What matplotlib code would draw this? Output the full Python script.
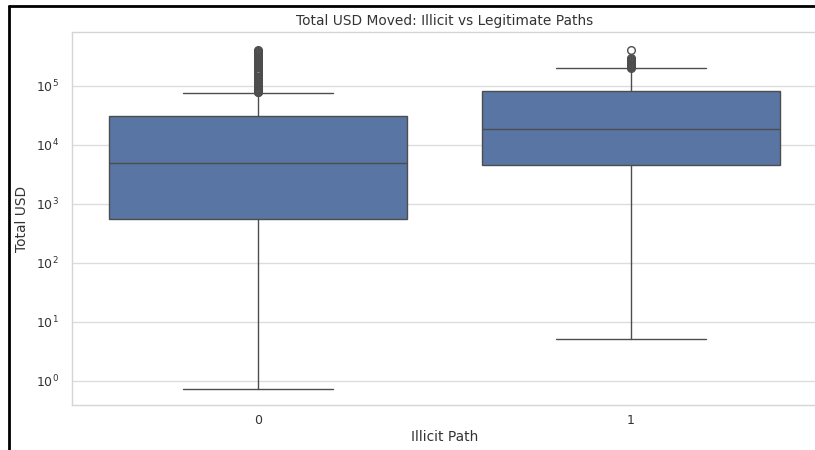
import matplotlib
matplotlib.use("Agg")
import matplotlib.pyplot as plt
import seaborn as sns
from matplotlib.lines import Line2D

sns.set_theme(style="whitegrid")
plt.rcParams['font.family'] = ['DejaVu Sans']

# Box summary per group (Illicit Path = 0 / 1), Total USD
groups = ["0", "1"]
q1 = [557, 4590]
median = [4950, 18650]
q3 = [31000, 82200]
whisker_low = [0.73, 5.15]
whisker_high = [76000, 202000]
outliers_0 = [78000, 80000, 83000, 86000, 89000, 92000, 96000, 100000, 104000,
              108000, 113000, 118000, 124000, 130000, 137000, 144000, 152000,
              160000, 168000, 177000, 186000, 196000, 206000, 217000, 228000,
              240000, 252000, 265000, 278000, 292000, 306000, 320000, 335000,
              350000, 365000, 380000, 395000, 408000]
outliers_1 = [203000, 208000, 214000, 220000, 227000, 235000, 243000, 252000,
              262000, 272000, 283000, 295000, 410000]
fliers = [outliers_0, outliers_1]
y_ticks = [1e0, 1e1, 1e2, 1e3, 1e4, 1e5]

box_color = "#5875a4"
line_color = "#4d4d4d"

fig = plt.figure(figsize=(8.15, 4.5), dpi=100)
ax = fig.add_axes([71.5 / 815, 45 / 450, 746 / 815, 373 / 450])

stats = []
for i in range(len(groups)):
    stats.append(dict(label=groups[i], q1=q1[i], med=median[i], q3=q3[i],
                      whislo=whisker_low[i], whishi=whisker_high[i],
                      fliers=fliers[i]))

ax.bxp(stats, positions=range(len(groups)), widths=0.8, patch_artist=True,
       boxprops=dict(facecolor=box_color, edgecolor=line_color, linewidth=1.0),
       medianprops=dict(color=line_color, linewidth=1.0),
       whiskerprops=dict(color=line_color, linewidth=1.0),
       capprops=dict(color=line_color, linewidth=1.0),
       capwidths=0.4,
       flierprops=dict(marker="o", markerfacecolor="none",
                       markeredgecolor=line_color, markersize=5.5,
                       markeredgewidth=1.0))

ax.set_yscale("log")
ax.set_xlim(-0.5, 1.5)
ax.set_ylim(10 ** -0.407, 10 ** 5.915)
ax.set_yticks(y_ticks)
ax.yaxis.set_minor_locator(matplotlib.ticker.NullLocator())
ax.set_xticks(range(len(groups)))
ax.set_xticklabels(groups)
ax.tick_params(axis="x", labelsize=9, colors="#333333", pad=0.5)
ax.tick_params(axis="y", labelsize=9, colors="#333333", pad=3)
ax.grid(True, axis="y", color="#dddddd", linewidth=1.0)
ax.grid(False, axis="x")
for s in ax.spines.values():
    s.set_color("#d5d5d5")
    s.set_linewidth(1.0)

ax.set_title("Total USD Moved: Illicit vs Legitimate Paths", fontsize=9.9,
             color="#333333", pad=5)
ax.set_xlabel("Illicit Path", fontsize=9.9, color="#333333", labelpad=2)
ax.set_ylabel("Total USD", fontsize=9.9, color="#333333", labelpad=5)

# Black frame on left and top edges
fig.add_artist(Line2D([8.5 / 815, 8.5 / 815], [0, 1 - 6 / 450],
                      transform=fig.transFigure, color="black", linewidth=2))
fig.add_artist(Line2D([8.5 / 815, 1], [1 - 6 / 450, 1 - 6 / 450],
                      transform=fig.transFigure, color="black", linewidth=2))

fig.savefig("out.png", dpi=100)
